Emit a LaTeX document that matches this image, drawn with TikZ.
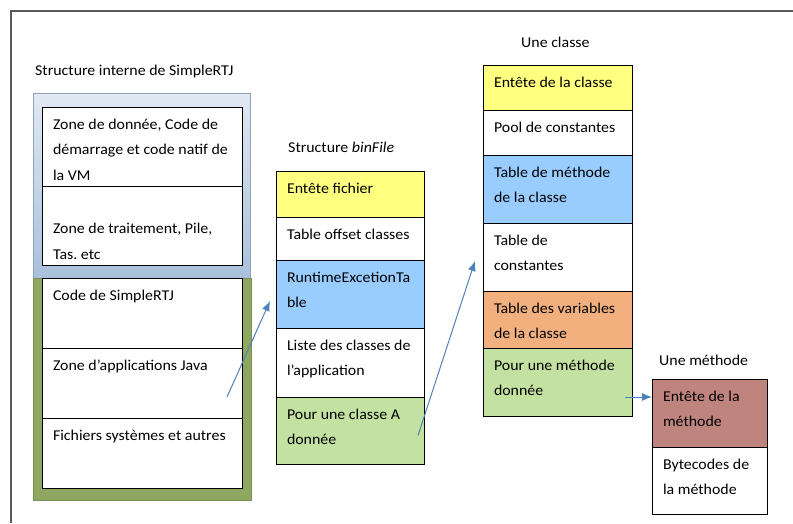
\documentclass[tikz,border=0pt]{standalone}
\usepackage{fontspec}
\setmainfont[FakeStretch=1.06]{Carlito}
\usetikzlibrary{positioning,calc,arrows.meta}
\definecolor{hdryellow}{HTML}{FFFF80}
\definecolor{tabblue}{HTML}{99CCFF}
\definecolor{zonegreen}{HTML}{C3E1A0}
\definecolor{varorange}{HTML}{F2B07F}
\definecolor{methrose}{HTML}{C0847F}
\definecolor{arrowblue}{HTML}{4F81BD}
\definecolor{panelblue}{HTML}{A9C0DC}
\definecolor{panelgreen}{HTML}{8EA862}
\tikzstyle{block} = [draw, fill=white, rectangle, inner sep=0pt, outer sep=0pt, line width=0.8pt]
\tikzstyle{title} = [inner sep=0pt, anchor=west]
\tikzstyle{link} = [draw=arrowblue, line width=1pt, -{Latex[length=10pt,width=8pt]}]
\newcommand{\boxtxt}[3]{\parbox[c][#1][t]{#2}{\leftskip=11pt\rightskip=0pt plus 1fil\parfillskip=0pt plus 1fil\frenchspacing\rule{0pt}{22pt}#3}}

\begin{document}
\begin{tikzpicture}[x=1pt, y=-1pt, font=\fontsize{15}{25.5}\selectfont]
        \useasboundingbox (0,0) rectangle (793,523);
        \draw[line width=1.2pt, draw=black!65] (11,523) -- (11,11) -- (793,11);

        % panneaux de la structure interne
        \shade[top color=panelblue!35, bottom color=panelblue, draw=panelblue!85!black] (33,93) rectangle (250,278);
        \fill[panelgreen, draw=panelgreen!85!black] (33,278) rectangle (251,500);

        \node [title] (tvm) at (35,71) {Structure interne de SimpleRTJ};
        \node [block, anchor=north west] at (42,107) (vmdata) {\boxtxt{79pt}{200pt}{Zone de donnée, Code de\\démarrage et code natif de\\la VM}};
        \node [block, below=0pt of vmdata] (heap) {\boxtxt{79pt}{200pt}{\\Zone de traitement, Pile,\\Tas. etc}};
        \node [block, anchor=north west] at (42,278) (rtjcode) {\boxtxt{70pt}{200pt}{Code de SimpleRTJ}};
        \node [block, below=0pt of rtjcode] (apps) {\boxtxt{70pt}{200pt}{Zone d’applications Java}};
        \node [block, below=0pt of apps] (files) {\boxtxt{70pt}{200pt}{Fichiers systèmes et autres}};

        % structure binFile
        \node [title] (tbin) at (288,147) {Structure \textit{binFile}};
        \node [block, fill=hdryellow, anchor=north west] at (276,171) (filehdr) {\boxtxt{46pt}{148pt}{Entête fichier}};
        \node [block, below=0pt of filehdr] (offsets) {\boxtxt{43pt}{148pt}{Table offset classes}};
        \node [block, fill=tabblue, below=0pt of offsets] (rtet) {\boxtxt{68pt}{148pt}{RuntimeExcetionTa\\ble}};
        \node [block, below=0pt of rtet] (clslist) {\boxtxt{69pt}{148pt}{Liste des classes de\\l’application}};
        \node [block, fill=zonegreen, below=0pt of clslist] (clsa) {\boxtxt{67pt}{148pt}{Pour une classe A\\donnée}};

        % une classe
        \node [title] (tcls) at (521,42) {Une classe};
        \node [block, fill=hdryellow, anchor=north west] at (483,65) (clshdr) {\boxtxt{45pt}{149pt}{Entête de la classe}};
        \node [block, below=0pt of clshdr] (pool) {\boxtxt{45pt}{149pt}{Pool de constantes}};
        \node [block, fill=tabblue, below=0pt of pool] (mtab) {\boxtxt{68pt}{149pt}{Table de méthode\\de la classe}};
        \node [block, below=0pt of mtab] (ctab) {\boxtxt{68pt}{149pt}{Table de\\constantes}};
        \node [block, fill=varorange, below=0pt of ctab] (vtab) {\boxtxt{57pt}{149pt}{Table des variables\\de la classe}};
        \node [block, fill=zonegreen, below=0pt of vtab] (meth) {\boxtxt{68pt}{149pt}{Pour une méthode\\donnée}};

        % une methode
        \node [title] (tmeth) at (659,360) {Une méthode};
        \node [block, fill=methrose, anchor=north west] at (652,379) (mhdr) {\boxtxt{68pt}{115pt}{Entête de la\\méthode}};
        \node [block, below=0pt of mhdr] (bytes) {\boxtxt{67pt}{115pt}{Bytecodes de\\la méthode}};

        \coordinate (appsout) at ($(apps.south east)+(-15,-21)$);
        \coordinate (rtetin) at ($(rtet.west)+(-6,7)$);
        \coordinate (clsaout) at ($(clsa.east)+(-6,5)$);
        \coordinate (ctabin) at ($(ctab.west)+(-8,4)$);
        \coordinate (methout) at ($(meth.east)+(-7,15)$);
        \coordinate (mhdrin) at ($(mhdr.west)+(0,-16)$);

        \draw[link] (appsout) -- (rtetin);
        \draw[link] (clsaout) -- (ctabin);
        \draw[link] (methout) -- (mhdrin);
\end{tikzpicture}
\end{document}
